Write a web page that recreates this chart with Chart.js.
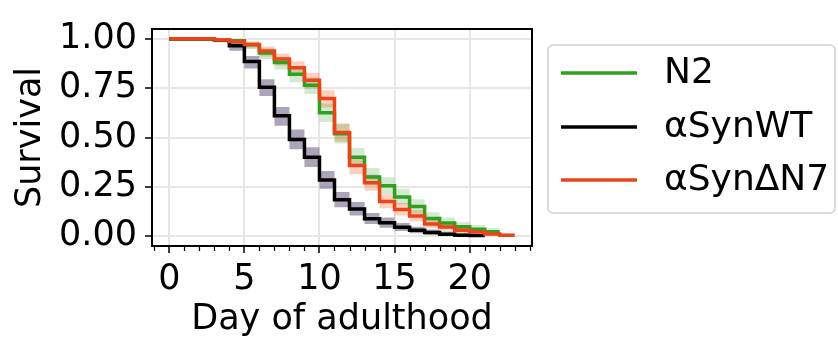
<!DOCTYPE html>
<html><head><meta charset="utf-8">
<script src="https://cdn.jsdelivr.net/npm/chart.js@4/dist/chart.umd.min.js"></script>
<style>html,body{margin:0;padding:0;background:#fff;}canvas{display:block}</style>
</head><body>
<canvas id="c" width="838" height="337"></canvas>
<script>
const seriesLabels = ['N2', 'αSynWT', 'αSynΔN7'];
const days = [0,1,2,3,4,5,6,7,8,9,10,11,12,13,14,15,16,17,18,19,20,21,22,23];
const xTicks = [0,5,10,15,20];
const yTicks = [0,0.25,0.5,0.75,1];

// N2 (days 0..22)
const n2Survival = [1,1,1,0.995,0.99,0.97,0.928,0.88,0.82,0.765,0.626,0.519,0.40,0.30,0.255,0.199,0.15,0.09,0.066,0.047,0.035,0.022,0.022];
const n2Lower    = [1,1,1,0.985,0.975,0.948,0.898,0.845,0.78,0.72,0.578,0.47,0.352,0.256,0.213,0.16,0.114,0.062,0.042,0.027,0.018,0.009,0.009];
const n2Upper    = [1,1,1,1,0.998,0.986,0.953,0.91,0.856,0.806,0.672,0.567,0.447,0.345,0.298,0.24,0.187,0.121,0.094,0.071,0.057,0.04,0.04];

// aSynWT (days 0..21)
const wtSurvival = [1,1,1,0.995,0.965,0.885,0.755,0.61,0.49,0.40,0.285,0.185,0.138,0.088,0.068,0.045,0.03,0.018,0.01,0.005,0.003,0.003];
const wtLower    = [1,1,1,0.983,0.94,0.85,0.71,0.56,0.44,0.35,0.24,0.147,0.105,0.061,0.043,0.026,0.015,0.007,0.003,0.001,0,0];
const wtUpper    = [1,1,1,1,0.982,0.913,0.795,0.655,0.54,0.45,0.33,0.224,0.173,0.117,0.094,0.066,0.048,0.034,0.023,0.015,0.011,0.011];

// aSynDN7 (days 0..23)
const dn7Survival = [1,1,1,0.995,0.987,0.972,0.938,0.898,0.853,0.79,0.698,0.525,0.358,0.27,0.175,0.135,0.102,0.062,0.046,0.03,0.022,0.011,0.005,0.005];
const dn7Lower    = [1,1,1,0.984,0.972,0.952,0.91,0.865,0.816,0.748,0.652,0.478,0.314,0.23,0.141,0.105,0.075,0.041,0.028,0.016,0.01,0.004,0.001,0.001];
const dn7Upper    = [1,1,1,1,0.996,0.987,0.961,0.926,0.886,0.828,0.74,0.572,0.404,0.312,0.212,0.168,0.133,0.087,0.068,0.048,0.038,0.024,0.015,0.015];

const lineColors = ['#31a01f', '#000000', '#eb4418'];
const bandColors = ['rgba(44,160,44,0.22)', 'rgba(70,55,100,0.45)', 'rgba(255,80,20,0.27)'];

const pts = vals => vals.map((v, i) => ({x: days[i], y: v}));

function band(lo, hi, color) {
  return [
    {data: pts(lo), stepped: 'before', borderWidth: 0, pointRadius: 0, fill: false, order: 10, backgroundColor: 'rgba(0,0,0,0)'},
    {data: pts(hi), stepped: 'before', borderWidth: 0, pointRadius: 0, fill: '-1', order: 10, backgroundColor: color}
  ];
}
function line(vals, i, order) {
  return {label: seriesLabels[i], data: pts(vals), stepped: 'before', borderColor: lineColors[i], borderWidth: 3.5,
          pointRadius: 0, fill: false, order: order, borderJoinStyle: 'miter', borderCapStyle: 'butt'};
}

const datasets = [
  ...band(n2Lower, n2Upper, bandColors[0]),
  ...band(wtLower, wtUpper, bandColors[1]),
  ...band(dn7Lower, dn7Upper, bandColors[2]),
  line(n2Survival, 0, 3),
  line(wtSurvival, 1, 2),
  line(dn7Survival, 2, 1)
];

const FONT = 'DejaVu Sans';
Chart.defaults.font.family = FONT;
Chart.defaults.color = '#000';

const extras = {
  id: 'extras',
  afterDraw(chart) {
    const {ctx, chartArea: a, scales: {x}} = chart;
    ctx.save();
    ctx.strokeStyle = '#000';
    ctx.lineWidth = 2;
    ctx.strokeRect(a.left, a.top, a.right - a.left, a.bottom - a.top);
    ctx.lineWidth = 1.2;
    ctx.beginPath();
    for (let d = Math.ceil(x.min); d <= Math.floor(x.max); d++) {
      if (xTicks.includes(d)) continue;
      const px = Math.round(x.getPixelForValue(d)) + 0.5;
      ctx.moveTo(px, a.bottom + 1);
      ctx.lineTo(px, a.bottom + 5);
    }
    ctx.stroke();

    // legend
    const lx = 548, ly = 45, lw = 287, lh = 168, r = 5;
    ctx.beginPath();
    ctx.moveTo(lx + r, ly);
    ctx.arcTo(lx + lw, ly, lx + lw, ly + lh, r);
    ctx.arcTo(lx + lw, ly + lh, lx, ly + lh, r);
    ctx.arcTo(lx, ly + lh, lx, ly, r);
    ctx.arcTo(lx, ly, lx + lw, ly, r);
    ctx.closePath();
    ctx.fillStyle = 'rgba(255,255,255,0.8)';
    ctx.fill();
    ctx.strokeStyle = '#d0d0d0';
    ctx.lineWidth = 1.5;
    ctx.stroke();
    const rows = [73, 127, 180];
    ctx.font = '36px "' + FONT + '"';
    ctx.textBaseline = 'middle';
    ctx.textAlign = 'left';
    seriesLabels.forEach((lab, i) => {
      ctx.strokeStyle = lineColors[i];
      ctx.lineWidth = 3.5;
      ctx.beginPath();
      ctx.moveTo(561, rows[i]);
      ctx.lineTo(637, rows[i]);
      ctx.stroke();
      ctx.fillStyle = '#000';
      ctx.fillText(lab, 664, rows[i] + 1);
    });
    ctx.restore();
  }
};

new Chart(document.getElementById('c'), {
  type: 'line',
  data: {datasets},
  options: {
    responsive: false,
    animation: false,
    devicePixelRatio: 1,
    layout: {padding: {top: 17, right: 306, left: 0, bottom: 0}},
    plugins: {legend: {display: false}, tooltip: {enabled: false}},
    scales: {
      x: {
        type: 'linear', min: -1.15, max: 24.15,
        afterBuildTicks: s => { s.ticks = xTicks.map(v => ({value: v})); },
        afterFit: s => { s.height = 91; },
        ticks: {font: {size: 35}, padding: 6, maxRotation: 0, callback: v => String(v)},
        grid: {color: '#e6e6e6', lineWidth: 2, tickColor: '#000', tickLength: 7, tickWidth: 1.5},
        border: {display: true, color: '#000', width: 2},
        title: {display: true, text: 'Day of adulthood', font: {size: 35, lineHeight: 1.0}, padding: {top: 0, bottom: 0}}
      },
      y: {
        type: 'linear', min: -0.05, max: 1.05,
        afterBuildTicks: s => { s.ticks = yTicks.map(v => ({value: v})); },
        afterFit: s => { s.width = 152; },
        ticks: {font: {size: 35}, padding: 8, callback: v => v.toFixed(2)},
        grid: {color: '#e6e6e6', lineWidth: 2, tickColor: '#000', tickLength: 7, tickWidth: 1.5},
        border: {display: true, color: '#000', width: 2},
        title: {display: true, text: 'Survival', font: {size: 35}, padding: {top: 10, bottom: 0}}
      }
    }
  },
  plugins: [extras]
});
</script>
</body></html>
